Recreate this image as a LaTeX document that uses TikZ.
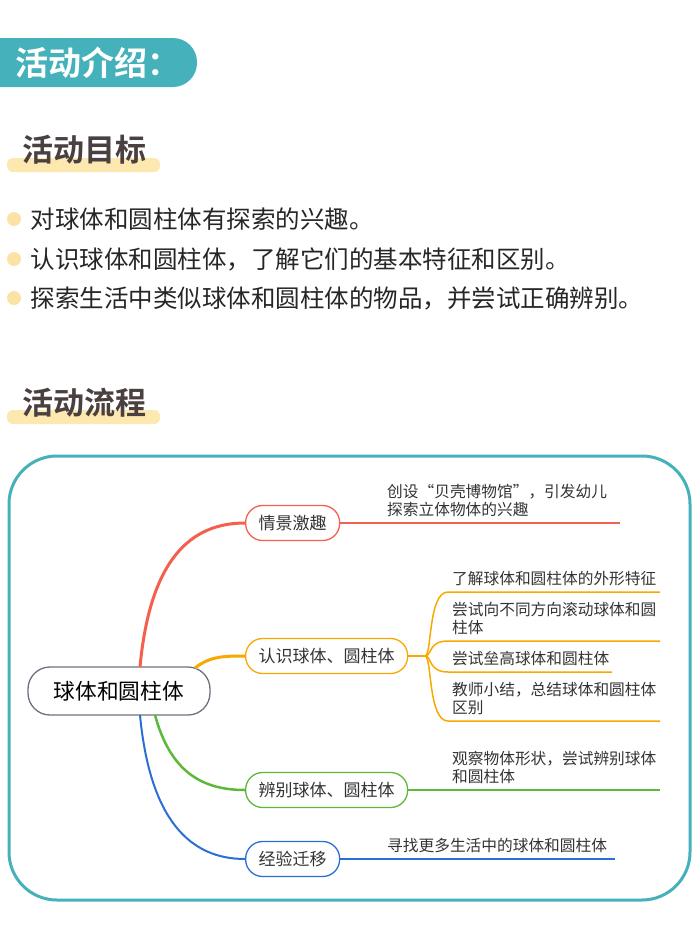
\documentclass[tikz,border=0pt]{standalone}
\usepackage{fontspec}
\setmainfont{Noto Sans CJK SC}
\newfontfamily\cjkb{Noto Sans CJK SC Bold}
\definecolor{teal1}{HTML}{45B1BA}
\definecolor{ylw}{HTML}{FDE8B0}
\definecolor{dot}{HTML}{FBE3A5}
\definecolor{ttl}{HTML}{4A4040}
\definecolor{cr}{HTML}{F5604E}
\definecolor{co}{HTML}{F9A800}
\definecolor{cg}{HTML}{5DB83A}
\definecolor{cb}{HTML}{2B6FD4}
\definecolor{cgray}{HTML}{6A7280}
\begin{document}
\begin{tikzpicture}[x=1pt,y=-1pt,
  bul/.style={anchor=west,font=\fontsize{24.5}{28}\selectfont,text=black!85},
  br/.style={draw,anchor=west,rounded corners=17pt,line width=1.3pt,minimum height=35pt,inner xsep=13pt,font=\fontsize{17}{20}\selectfont,text=black!80},
  lf/.style={anchor=south west,align=left,font=\fontsize{15.7}{18}\selectfont,text=black!80,inner sep=2pt},
  st/.style={line width=1.5pt}]
\useasboundingbox (0,0) rectangle (700,938);
% header
\fill[teal1,rounded corners=24pt] (-30,38) rectangle (197,87);
\node[anchor=west,text=white,font=\cjkb\fontsize{33}{36}\selectfont] (h) at (12,63) {活动介绍：};
% section titles
\fill[ylw,rounded corners=6pt] (7,158) rectangle (160,172);
\node[anchor=west,text=ttl,font=\cjkb\fontsize{31}{34}\selectfont] (t1) at (19,150) {活动目标};
\fill[ylw,rounded corners=6pt] (7,410) rectangle (160,424);
\node[anchor=west,text=ttl,font=\cjkb\fontsize{31}{34}\selectfont] (t2) at (19,403) {活动流程};
% bullets
\foreach \y/\t in {219/对球体和圆柱体有探索的兴趣。,259/认识球体和圆柱体，了解它们的基本特征和区别。,298/探索生活中类似球体和圆柱体的物品，并尝试正确辨别。}{
  \fill[dot] (14,\y) circle (7);
  \node[bul] at (27,\y) {\t};
}
% frame
\draw[teal1,line width=3pt,rounded corners=48pt] (9,456) rectangle (690,900);
% nodes
\node[draw=cgray,line width=1.3pt,rounded corners=22pt,minimum width=182pt,minimum height=48pt,font=\fontsize{21.7}{24}\selectfont] (c) at (119,691) {球体和圆柱体};
\node[br,draw=cr] (a) at (245,523) {情景激趣};
\node[br,draw=co] (b) at (245,656) {认识球体、圆柱体};
\node[br,draw=cg] (d) at (245,790) {辨别球体、圆柱体};
\node[br,draw=cb] (e) at (245,859) {经验迁移};
% main branches
\draw[cr,line width=3pt] (140,667) .. controls (150,560) and (190,523) .. (a.west);
\draw[co,line width=3pt] (195,668) .. controls (210,656) and (225,656) .. (b.west);
\draw[cg,line width=2.5pt] (155,715) .. controls (170,770) and (200,790) .. (d.west);
\draw[cb,line width=2pt] (140,715) .. controls (150,820) and (190,859) .. (e.west);
% leaves
\coordinate (ae) at (620,523);
\draw[cr,st] (a.east) -- (ae);
\node[lf] (at) at (385,519) {创设“贝壳博物馆”，引发幼儿\\探索立体物体的兴趣};
\coordinate (de) at (660,790);
\draw[cg,st] (d.east) -- (de);
\node[lf] (dt) at (450,786) {观察物体形状，尝试辨别球体\\和圆柱体};
\coordinate (ee) at (615,859);
\draw[cb,st] (e.east) -- (ee);
\node[lf] (et) at (385,855) {寻找更多生活中的球体和圆柱体};
\coordinate (bj) at (425,656);
\draw[co,st] (b.east) -- (bj);
\foreach \y/\xe/\t in {592/660/了解球体和圆柱体的外形特征,641/660/{尝试向不同方向滚动球体和圆\\柱体},672/612/尝试垒高球体和圆柱体,721/660/{教师小结，总结球体和圆柱体\\区别}}{
  \draw[co,st] (bj) .. controls (432,656) and (428,\y) .. (448,\y) -- (\xe,\y);
  \node[lf] at (450,\y-4) {\t};
}
\end{tikzpicture}
\end{document}
